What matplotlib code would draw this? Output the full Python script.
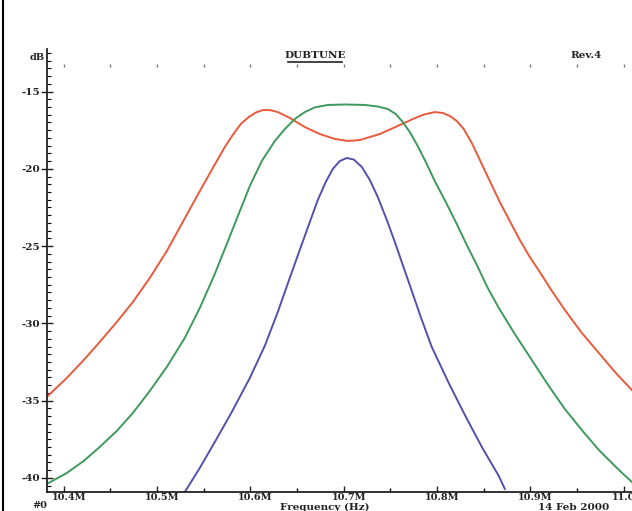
import numpy as np
from matplotlib import pyplot as plt
from matplotlib.lines import Line2D
from matplotlib.ticker import MultipleLocator, FuncFormatter
import matplotlib.transforms as mtransforms

plt.rcParams['axes.unicode_minus'] = False

W, H = 632, 511
FONT = ['DejaVu Serif']

# response curves, frequency in MHz, level in dB
freq_red = [10.3818, 10.4032, 10.4214, 10.4386, 10.4568, 10.4740, 10.4922, 10.5104,
            10.5275, 10.5458, 10.5597, 10.5726, 10.5811, 10.5897, 10.5983, 10.6058,
            10.6133, 10.6208, 10.6294, 10.6422, 10.6583, 10.6744, 10.6905, 10.7044,
            10.7173, 10.7387, 10.7601, 10.7741, 10.7859, 10.7976, 10.8062, 10.8137,
            10.8212, 10.8287, 10.8373, 10.8459, 10.8566, 10.8673, 10.8780, 10.8888,
            10.8995, 10.9102, 10.9231, 10.9370, 10.9552, 10.9734, 10.9906, 11.0088]
db_red = [-34.76, -33.53, -32.37, -31.20, -29.91, -28.62, -27.06, -25.32,
          -23.44, -21.44, -19.95, -18.59, -17.81, -17.10, -16.65, -16.36,
          -16.20, -16.20, -16.33, -16.71, -17.30, -17.75, -18.07, -18.20,
          -18.14, -17.75, -17.17, -16.78, -16.49, -16.33, -16.39, -16.58,
          -16.91, -17.43, -18.33, -19.43, -20.79, -22.15, -23.38, -24.61,
          -25.71, -26.68, -27.90, -29.13, -30.62, -31.91, -33.14, -34.31]

freq_green = [10.3818, 10.4032, 10.4214, 10.4386, 10.4568, 10.4740, 10.4922, 10.5104,
              10.5297, 10.5458, 10.5619, 10.5811, 10.5994, 10.6122, 10.6262, 10.6369,
              10.6476, 10.6583, 10.6690, 10.6830, 10.7012, 10.7226, 10.7365, 10.7473,
              10.7558, 10.7633, 10.7708, 10.7794, 10.7880, 10.7976, 10.8105, 10.8212,
              10.8319, 10.8427, 10.8544, 10.8662, 10.8834, 10.9016, 10.9198, 10.9370,
              10.9552, 10.9734, 10.9949, 11.0088]
db_green = [-40.39, -39.68, -38.90, -37.99, -36.96, -35.80, -34.37, -32.82,
            -30.94, -29.00, -26.80, -23.89, -21.11, -19.50, -18.20, -17.43,
            -16.78, -16.33, -16.03, -15.87, -15.84, -15.87, -15.97, -16.13,
            -16.46, -16.97, -17.62, -18.53, -19.56, -20.79, -22.28, -23.57,
            -24.93, -26.22, -27.71, -29.00, -30.69, -32.37, -34.05, -35.54,
            -36.90, -38.19, -39.48, -40.26]

freq_blue = [10.5297, 10.5458, 10.5619, 10.5801, 10.5994, 10.6154, 10.6294, 10.6422,
             10.6529, 10.6637, 10.6722, 10.6808, 10.6883, 10.6958, 10.7033, 10.7108,
             10.7194, 10.7280, 10.7365, 10.7462, 10.7548, 10.7633, 10.7708, 10.7826,
             10.7944, 10.8126, 10.8298, 10.8480, 10.8662, 10.8727]
db_blue = [-40.91, -39.35, -37.67, -35.73, -33.53, -31.46, -29.26, -27.06,
           -25.25, -23.44, -22.02, -20.85, -20.01, -19.50, -19.30, -19.40,
           -19.88, -20.72, -21.82, -23.31, -24.73, -26.22, -27.52, -29.59,
           -31.53, -33.86, -35.92, -37.99, -39.87, -40.71]

xticks = [10.4, 10.5, 10.6, 10.7, 10.8, 10.9, 11.0]
yticks = [-40, -35, -30, -25, -20, -15]

fig = plt.figure(figsize=(W / 100, H / 100), dpi=100)
ax = fig.add_axes([47 / W, 19 / H, 585 / W, 443 / H])

ax.plot(freq_red, db_red, color='#e85a3c', lw=1.4, solid_joinstyle='round')
ax.plot(freq_green, db_green, color='#3d9a5c', lw=1.4, solid_joinstyle='round')
ax.plot(freq_blue, db_blue, color='#5650ac', lw=1.4, solid_joinstyle='round')

ax.set_xlim(10.382, 11.009)
ax.set_ylim(-40.91, -12.25)

for s in ['top', 'right']:
    ax.spines[s].set_visible(False)
for s in ['left', 'bottom']:
    ax.spines[s].set_linewidth(1.3)
    ax.spines[s].set_color('#222222')

ax.set_xticks(xticks)
ax.xaxis.set_minor_locator(MultipleLocator(0.05))
ax.xaxis.set_major_formatter(FuncFormatter(lambda v, p: '%.1fM' % v))
ax.set_yticks(yticks)
ax.yaxis.set_minor_locator(MultipleLocator(0.5))

ax.tick_params(axis='x', which='major', direction='in', length=4, width=1, pad=1,
               labelsize=7, colors='#222222')
ax.tick_params(axis='x', which='minor', direction='in', length=3, width=1)
ax.tick_params(axis='y', which='major', direction='inout', length=8, width=1, pad=1,
               labelsize=7.5, colors='#222222')
ax.tick_params(axis='y', which='minor', direction='in', length=3, width=0.8)

for lbl in ax.get_xticklabels() + ax.get_yticklabels():
    lbl.set_family(FONT)
    lbl.set_fontweight('bold')
# frequency labels sit a little right of their tick
shift = mtransforms.ScaledTranslation(5 / 100, 0, fig.dpi_scale_trans)
for lbl in ax.get_xticklabels():
    lbl.set_transform(lbl.get_transform() + shift)

# dotted row of ticks near the top, no line
top = ax.secondary_xaxis((492 - 64) / 443)
top.spines['top'].set_visible(False)
top.spines['bottom'].set_visible(False)
top.set_xticks(np.arange(10.4, 11.01, 0.05))
top.tick_params(direction='in', length=2, width=1, colors='#777777', labeltop=False,
                labelbottom=False)

# texts around the frame
txt = dict(family=FONT, fontweight='bold', color='#222222', va='center')
fig.text(37 / W, 1 - 57 / H, 'dB', ha='center', fontsize=7, **txt)
fig.text(315 / W, 1 - 55 / H, 'DUBTUNE', ha='center', fontsize=7.5, **txt)
fig.add_artist(Line2D([288 / W, 342 / W], [1 - 62 / H, 1 - 62 / H], color='#222222', lw=1.2))
fig.text(586 / W, 1 - 55 / H, 'Rev.4', ha='center', fontsize=7.5, **txt)
fig.text(40 / W, 1 - 506 / H, '#0', ha='center', fontsize=7, **txt)
fig.text(325 / W, 1 - 507 / H, 'Frequency (Hz)', ha='center', fontsize=7.5, **txt)
fig.text(574 / W, 1 - 507 / H, '14 Feb 2000', ha='center', fontsize=7.5, **txt)

# black rule down the left edge
fig.add_artist(Line2D([2.5 / W, 2.5 / W], [0, 1], color='black', lw=1.5))

fig.savefig('out.png', dpi=100)
